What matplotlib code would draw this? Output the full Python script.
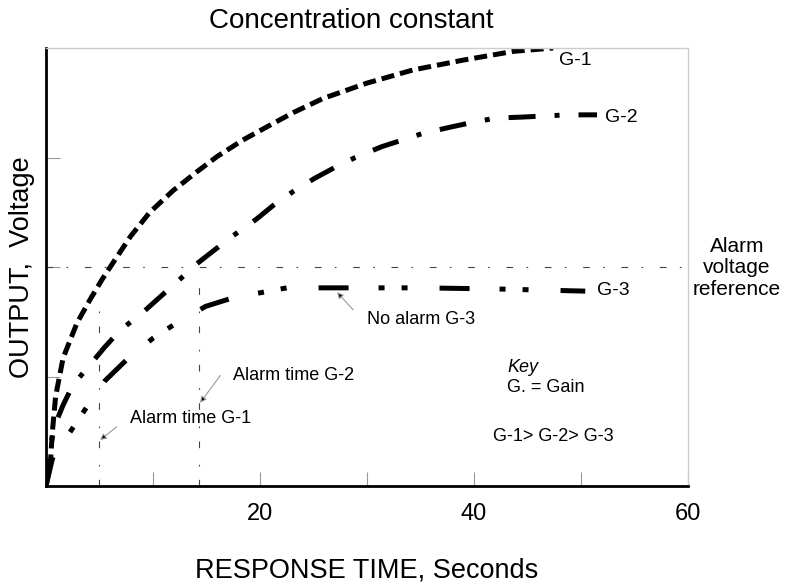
import matplotlib
matplotlib.use("Agg")
import matplotlib.pyplot as plt

plt.rcParams['font.family'] = ['Liberation Sans', 'DejaVu Sans']

# Curvas de respuesta (tiempo en s, salida en unidades de eje)
g1_x = [0, 0.4, 0.6, 0.9, 1.6, 2.9, 4.1, 5.2, 6.0, 7.9, 9.7, 11.9, 14.1, 16.0,
        18.4, 21.2, 23.1, 25.9, 30.0, 34.3, 39.0, 43.7, 47.4]
g1_y = [0, 0.2, 0.5, 0.82, 1.17, 1.49, 1.70, 1.88, 2.0, 2.28, 2.50, 2.70, 2.87,
        3.01, 3.16, 3.31, 3.41, 3.54, 3.68, 3.80, 3.89, 3.97, 4.0]

g2_x = [0, 0.3, 0.8, 1.6, 2.5, 4.3, 5.5, 6.9, 9.1, 10.7, 12.2, 14.1, 15.8, 17.4,
        19.7, 21.2, 23.1, 25.1, 27.0, 28.9, 31.4, 33.3, 35.2, 37.9, 39.8, 42.0,
        44.6, 46.6, 48.8, 51.5]
g2_y = [0, 0.3, 0.55, 0.74, 0.92, 1.13, 1.27, 1.42, 1.59, 1.73, 1.86, 2.03, 2.16,
        2.28, 2.44, 2.56, 2.69, 2.81, 2.91, 3.0, 3.1, 3.16, 3.22, 3.28, 3.32, 3.36,
        3.37, 3.38, 3.39, 3.39]

g3_x = [0, 0.6, 1.5, 2.5, 3.8, 5.5, 7.5, 10.0, 11.9, 14.9, 17.5, 20.3, 22.5,
        27.2, 35.0, 42.0, 50.4]
g3_y = [0, 0.25, 0.38, 0.53, 0.72, 0.96, 1.15, 1.35, 1.47, 1.64, 1.72, 1.77, 1.81,
        1.81, 1.81, 1.80, 1.78]

alarm_level = 2.0
alarm_t_g1 = 5.0
alarm_t_g2 = 14.3

x_ticks = [10, 20, 30, 40, 50, 60]
x_tick_labels = ['', '20', '', '40', '', '60']
y_ticks = [1, 2, 3]

fig = plt.figure(figsize=(7.85, 5.86), dpi=100)
ax = fig.add_axes([0.0586, 0.1706, 0.8178, 0.7474])

ax.plot(g1_x, g1_y, color='black', lw=3.6, linestyle=(0, (2.6, 1.2)))
ax.plot(g2_x, g2_y, color='black', lw=3.6, linestyle=(0, (5.4, 3.8, 1, 3.8)))
ax.plot(g3_x, g3_y, color='black', lw=3.6,
        linestyle=(0, (6, 6, 1.2, 3.4, 1.2, 6.4)))

# Linea de referencia de alarma y tiempos de alarma
ref_style = (0, (6, 12, 1.5, 15))
ax.axhline(alarm_level, color='#444444', lw=0.8, linestyle=ref_style)
ax.vlines(alarm_t_g1, 0, 1.7, color='#444444', lw=0.8, linestyles=[ref_style])
ax.vlines(alarm_t_g2, 0, 1.88, color='#444444', lw=0.8, linestyles=[ref_style])

ax.set_xlim(0, 60)
ax.set_ylim(0, 4)
ax.set_xticks(x_ticks)
ax.set_xticklabels(x_tick_labels)
ax.set_yticks(y_ticks)
ax.set_yticklabels([])
ax.tick_params(axis='both', direction='in', length=10, width=0.8,
               color='#999999', labelsize=17)
ax.tick_params(axis='x', pad=12)

for lado in ['left', 'bottom']:
    ax.spines[lado].set_linewidth(2)
    ax.spines[lado].set_color('black')
for lado in ['top', 'right']:
    ax.spines[lado].set_linewidth(1)
    ax.spines[lado].set_color('#cccccc')

# Etiquetas de las curvas
ax.text(47.9, 3.89, 'G-1', fontsize=14, va='center')
ax.text(52.2, 3.37, 'G-2', fontsize=14, va='center')
ax.text(51.5, 1.79, 'G-3', fontsize=14, va='center')

# Anotaciones con flecha
flecha = dict(arrowstyle='-|>', fc='black', ec='#999999', lw=0.8,
              mutation_scale=9, shrinkA=0, shrinkB=0)
ax.text(7.85, 0.62, 'Alarm time G-1', fontsize=13, va='center')
ax.annotate('', xy=(5.05, 0.42), xytext=(6.6, 0.54), arrowprops=flecha)
ax.text(17.5, 1.01, 'Alarm time G-2', fontsize=13, va='center')
ax.annotate('', xy=(14.4, 0.76), xytext=(16.3, 1.01), arrowprops=flecha)
ax.text(30.0, 1.52, 'No alarm G-3', fontsize=13, va='center')
ax.annotate('', xy=(27.2, 1.77), xytext=(28.7, 1.61), arrowprops=flecha)

ax.text(43.1, 1.08, 'Key', fontsize=13, style='italic', va='center')
ax.text(43.1, 0.90, 'G. = Gain', fontsize=13, va='center')
ax.text(41.8, 0.45, 'G-1> G-2> G-3', fontsize=13, va='center')

fig.text(0.939, 0.543, 'Alarm\nvoltage\nreference', fontsize=15,
         ha='center', va='center', multialignment='center', linespacing=1.15)

fig.text(0.448, 0.964, 'Concentration constant', fontsize=20,
         ha='center', va='center')
fig.text(0.467, 0.027, 'RESPONSE TIME, Seconds', fontsize=19.5,
         ha='center', va='center')
fig.text(0.028, 0.544, 'OUTPUT,  Voltage', fontsize=19.5, rotation=90,
         ha='center', va='center')

fig.savefig('out.png', dpi=100)
